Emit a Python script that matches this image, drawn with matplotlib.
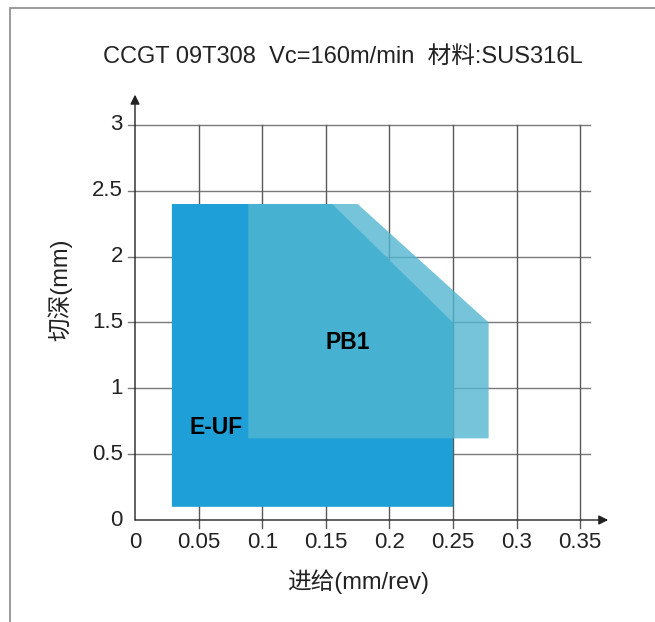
import numpy as np
import matplotlib.pyplot as plt
from matplotlib.patches import Polygon, Rectangle

plt.rcParams['font.family'] = ['Liberation Sans', 'Noto Sans CJK SC', 'DejaVu Sans']

# 数据
x_ticks = [0, 0.05, 0.1, 0.15, 0.2, 0.25, 0.3, 0.35]
x_labels = ['0', '0.05', '0.1', '0.15', '0.2', '0.25', '0.3', '0.35']
y_ticks = [0, 0.5, 1, 1.5, 2, 2.5, 3]
y_labels = ['0', '0.5', '1', '1.5', '2', '2.5', '3']

# E-UF 区域 (进给, 切深)
euf_f = [0.029, 0.25, 0.25, 0.155, 0.029]
euf_ap = [0.1, 0.1, 1.5, 2.4, 2.4]
# PB1 区域
pb1_f = [0.089, 0.278, 0.278, 0.175, 0.089]
pb1_ap = [0.62, 0.62, 1.5, 2.4, 2.4]

fig = plt.figure(figsize=(6.55, 6.22), dpi=100)
W, H = 655, 622
xmin, xmax = -0.01, 0.375
ymin, ymax = -0.1, 3.25
left_px = 135 + xmin * 1272
width_px = (xmax - xmin) * 1272
bottom_px = 520 - ymin * 131.67
height_px = (ymax - ymin) * 131.67
ax = fig.add_axes([left_px / W, (H - bottom_px) / H, width_px / W, height_px / H])
ax.set_xlim(xmin, xmax)
ax.set_ylim(ymin, ymax)
ax.axis('off')

# 外框
fig.patches.append(Rectangle((10 / W, -0.05), 1.0, (H - 8) / H + 0.05,
                             transform=fig.transFigure, fill=False,
                             edgecolor='#8a8a8a', linewidth=1.2))

# 网格
for yt in y_ticks[1:]:
    ax.plot([-0.0055, 0.3575], [yt, yt], color='#7a7a7a', lw=1.0, zorder=1)
for xt in x_ticks[1:]:
    ax.plot([xt, xt], [-0.06, 3], color='#5a5a5a', lw=1.0, zorder=1)

# 区域
ax.add_patch(Polygon(list(zip(euf_f, euf_ap)), closed=True,
                     facecolor='#1f9fd8', edgecolor='none', zorder=2))
ax.add_patch(Polygon(list(zip(pb1_f, pb1_ap)), closed=True,
                     facecolor='#52b6d1', alpha=0.8, edgecolor='none', zorder=3))

ax.text(0.1675, 1.35, 'PB1', fontsize=16.5, fontweight='bold', ha='center', va='center', zorder=4)
ax.text(0.0637, 0.70, 'E-UF', fontsize=16.5, fontweight='bold', ha='center', va='center', zorder=4)

# 坐标轴箭头
ax.annotate('', xy=(0.372, 0), xytext=(0, 0),
            arrowprops=dict(arrowstyle='-|>', color='#222222', lw=1.0,
                            mutation_scale=14, shrinkA=0, shrinkB=0), zorder=5)
ax.annotate('', xy=(0, 3.23), xytext=(0, 0),
            arrowprops=dict(arrowstyle='-|>', color='#222222', lw=1.0,
                            mutation_scale=14, shrinkA=0, shrinkB=0), zorder=5)

# 刻度标签
for xt, lab in zip(x_ticks, x_labels):
    ax.text(xt, -0.09, lab, fontsize=16, ha='center', va='top', color='#222222')
for yt, lab in zip(y_ticks, y_labels):
    ax.text(-0.0095, yt, lab, fontsize=16, ha='right', va='center', color='#222222')

fig.text(343 / W, 1 - 57 / H, 'CCGT 09T308  Vc=160m/min  材料:SUS316L',
         fontsize=17, ha='center', va='center', color='#222222')
fig.text(358 / W, 1 - 582 / H, '进给(mm/rev)', fontsize=17, ha='center', va='center', color='#222222')
fig.text(60 / W, 1 - 290 / H, '切深(mm)', fontsize=17, ha='center', va='center',
         rotation=90, color='#222222')

fig.savefig('out.png', dpi=100)
